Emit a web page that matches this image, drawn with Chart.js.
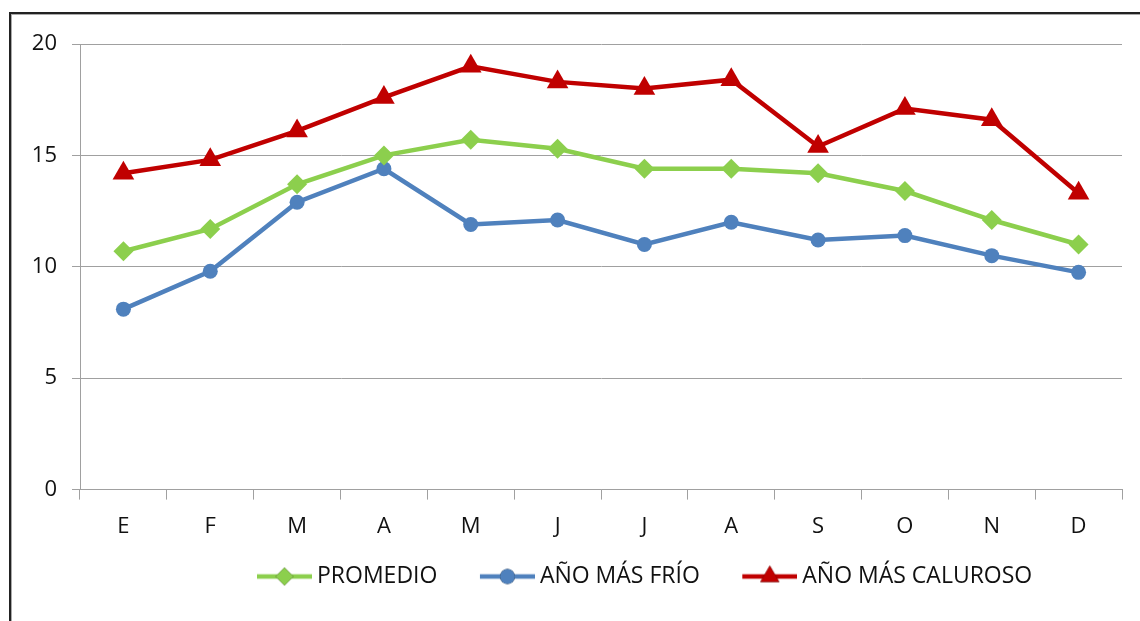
<!DOCTYPE html>
<html>
<head>
<meta charset="utf-8">
<script src="https://cdn.jsdelivr.net/npm/chart.js@4/dist/chart.umd.min.js"></script>
<style>
  html, body { margin: 0; padding: 0; background: #fff; overflow: hidden; }
  #frame { position: absolute; left: 9px; top: 12px; width: 1160px; height: 640px; border: 2px solid #222; box-shadow: inset 1px 1px 0 #aaa; }
  #wrap { position: absolute; left: 0; top: 0; width: 1140px; height: 621px; }
</style>
</head>
<body>
<div id="frame"></div>
<div id="wrap"><canvas id="chart" width="1140" height="621"></canvas></div>
<script>
// months (Spanish initials)
const months = ['E', 'F', 'M', 'A', 'M', 'J', 'J', 'A', 'S', 'O', 'N', 'D']

// temperature series
const promedio = [10.7, 11.7, 13.7, 15.0, 15.7, 15.3, 14.4, 14.4, 14.2, 13.4, 12.1, 11.0]
const anoFrio = [8.1, 9.8, 12.9, 14.4, 11.9, 12.1, 11.0, 12.0, 11.2, 11.4, 10.5, 9.75]
const anoCaluroso = [14.2, 14.8, 16.1, 17.6, 19.0, 18.3, 18.0, 18.4, 15.4, 17.1, 16.6, 13.3]

// y ticks
const yTicks = [0, 5, 10, 15, 20]

// colours
const green = '#8ccf4d'
const blue = '#4f81bd'
const red = '#c00000'

const fontFamily = '"Open Sans", "Liberation Sans", sans-serif'

// legend geometry
const legendBox = 80
const legendPad = 11

// small canvas for a legend marker: line with the point style in the middle,
// pushed to the right end so the text sits close to it
const legendIcon = (colour, style, radius) => {
  const c = document.createElement('canvas')
  c.width = legendBox + 13
  c.height = 26
  const ctx = c.getContext('2d')
  const x0 = c.width - 55
  ctx.strokeStyle = colour
  ctx.lineWidth = 4.5
  ctx.beginPath()
  ctx.moveTo(x0, 13)
  ctx.lineTo(c.width, 13)
  ctx.stroke()
  Chart.helpers.drawPoint(ctx, { pointStyle: style, radius, rotation: 0, borderWidth: 0 }, x0 + 27.5, 13)
  ctx.fillStyle = colour
  ctx.fill()
  return c
}

const icons = [
  legendIcon(green, 'rectRot', 9),
  legendIcon(blue, 'circle', 7.5),
  legendIcon(red, 'triangle', 11)
]

const series = (label, data, colour, style, radius) => ({
  label,
  data,
  borderColor: colour,
  backgroundColor: colour,
  borderWidth: 4.5,
  pointStyle: style,
  pointRadius: radius,
  pointHoverRadius: radius,
  pointBorderWidth: 0,
  tension: 0
})

// move the legend row so its first line starts where the original one does
const legendShift = {
  id: 'legendShift',
  afterUpdate: (c) => {
    const lg = c.legend
    if (!lg || !lg.lineWidths) return
    const startX = (lg.left + legendPad + lg.right - lg.lineWidths[0]) / 2
    const dx = 257 - (legendBox - 48.5) - startX
    lg.left += dx
    lg.right += dx
  }
}

const chart = new Chart(document.getElementById('chart'), {
  type: 'line',
  data: {
    labels: months,
    datasets: [
      series('PROMEDIO', promedio, green, 'rectRot', 10),
      series('AÑO MÁS FRÍO', anoFrio, blue, 'circle', 7.5),
      series('AÑO MÁS CALUROSO', anoCaluroso, red, 'triangle', 12.5)
    ]
  },
  plugins: [legendShift],
  options: {
    responsive: false,
    animation: false,
    layout: { padding: { left: 0, right: 18, top: 44, bottom: 23 } },
    plugins: {
      tooltip: { enabled: false },
      legend: {
        position: 'bottom',
        labels: {
          usePointStyle: true,
          pointStyleWidth: legendBox,
          boxHeight: 20,
          padding: legendPad,
          color: '#111',
          font: { family: fontFamily, size: 23 },
          generateLabels: (c) => {
            const items = Chart.defaults.plugins.legend.labels.generateLabels(c)
            items.forEach((item, i) => { item.pointStyle = icons[i] })
            return items
          }
        }
      }
    },
    scales: {
      x: {
        offset: true,
        grid: { offset: true, drawOnChartArea: false, drawTicks: true, tickLength: 10, color: '#a0a0a0' },
        border: { color: '#a0a0a0' },
        ticks: { color: '#111', padding: 14, font: { family: fontFamily, size: 22 } }
      },
      y: {
        min: 0,
        max: 20,
        afterFit: (axis) => { axis.width = 80 },
        afterBuildTicks: (axis) => { axis.ticks = yTicks.map(v => ({ value: v })) },
        grid: { color: '#a0a0a0', tickLength: 8 },
        border: { color: '#a0a0a0' },
        ticks: { color: '#111', padding: 15, font: { family: fontFamily, size: 22 } }
      }
    }
  }
})
</script>
</body>
</html>
